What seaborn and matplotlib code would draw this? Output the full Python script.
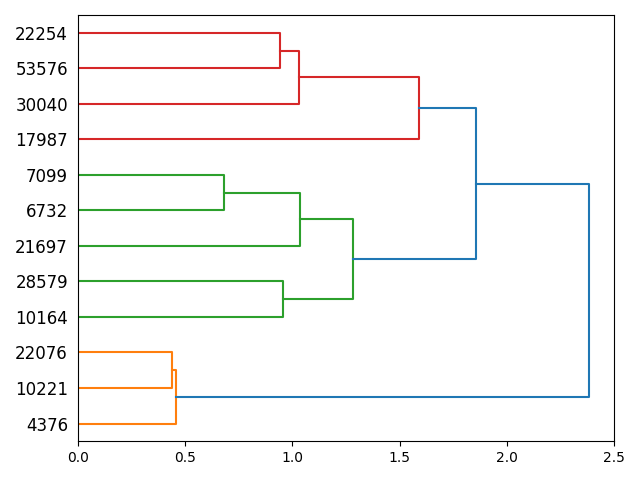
import matplotlib
matplotlib.use("Agg")
import matplotlib.pyplot as plt
import pandas as pd
import seaborn as sns

# leaf labels, bottom to top
leaf_labels = ["4376", "10221", "22076", "10164", "28579", "21697",
               "6732", "7099", "17987", "30040", "53576", "22254"]

# merges: (left child, right child, height); ids >= 12 are earlier merges
merge_left = [1, 0, 6, 10, 3, 9, 5, 16, 8, 19, 13]
merge_right = [2, 12, 7, 11, 4, 15, 14, 18, 17, 20, 21]
merge_height = [0.438, 0.457, 0.681, 0.942, 0.958, 1.031, 1.035,
                1.283, 1.590, 1.856, 2.383]

cluster_colors = ["C1", "C2", "C3"]
above_color = "C0"


def main():
    n = len(leaf_labels)
    threshold = 0.7 * max(merge_height)

    pos = {i: 5 + 10 * i for i in range(n)}
    hgt = {i: 0.0 for i in range(n)}
    leaves = {i: [i] for i in range(n)}

    links = []
    for k, (a, b, h) in enumerate(zip(merge_left, merge_right, merge_height)):
        node = n + k
        pos[node] = (pos[a] + pos[b]) / 2
        hgt[node] = h
        leaves[node] = leaves[a] + leaves[b]
        links.append((node, a, b, h))

    # colour the biggest subtrees under the threshold, in leaf order
    subtrees = [node for node, a, b, h in links if h < threshold]
    top = [s for s in subtrees
           if not any(set(leaves[s]) < set(leaves[o]) for o in subtrees)]
    top.sort(key=lambda s: min(leaves[s]))
    leaf_color = {}
    for i, s in enumerate(top):
        for lf in leaves[s]:
            leaf_color[lf] = cluster_colors[i % len(cluster_colors)]

    rows = []
    for node, a, b, h in links:
        color = leaf_color[leaves[node][0]] if h < threshold else above_color
        xs = [hgt[a], h, h, hgt[b]]
        ys = [pos[a], pos[a], pos[b], pos[b]]
        for x, y in zip(xs, ys):
            rows.append({"link": node, "x": x, "y": y, "color": color})
    df = pd.DataFrame(rows)

    fig, ax = plt.subplots(figsize=(6.4, 4.8), dpi=100)
    for link_id, seg in df.groupby("link"):
        sns.lineplot(data=seg, x="x", y="y", sort=False, estimator=None,
                     color=seg["color"].iloc[0], linewidth=1.5, ax=ax)

    ax.set_xlim(0, 2.5)
    ax.set_ylim(0, 10 * n)
    ax.set_yticks([5 + 10 * i for i in range(n)])
    ax.set_yticklabels(leaf_labels, fontsize=12)
    for line in ax.get_yticklines():
        line.set_visible(False)
    ax.set_xlabel("")
    ax.set_ylabel("")
    plt.tight_layout()
    plt.savefig("out.png")


if __name__ == "__main__":
    main()
